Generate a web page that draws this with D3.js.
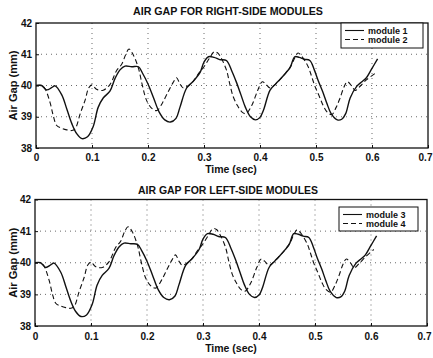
<!DOCTYPE html>
<html><head><meta charset="utf-8">
<script src="https://cdn.jsdelivr.net/npm/d3@7"></script>
<style>
body{margin:0;background:#fff;}
text{font-family:"Liberation Sans",Arial,sans-serif;font-weight:bold;fill:#111;}
</style></head>
<body><svg id="c" width="433" height="358"></svg>
<script>
const xTicks = [0,0.1,0.2,0.3,0.4,0.5,0.6,0.7];
const yTicks = [38,39,40,41,42];
const titles = ["AIR GAP FOR RIGHT-SIDE MODULES","AIR GAP FOR LEFT-SIDE MODULES"];
const xLabel = "Time (sec)";
const yLabel = "Air Gap (mm)";
const seriesNames = [["module 1","module 2"],["module 3","module 4"]];

const tSolid = [0,0.01,0.019,0.028,0.034,0.046,0.055,0.064,0.073,0.082,0.092,0.102,0.111,0.12,0.132,0.141,0.15,0.159,0.171,0.183,0.19,0.2,0.21,0.22,0.23,0.24,0.25,0.257,0.269,0.28,0.293,0.3,0.308,0.318,0.328,0.34,0.35,0.358,0.366,0.374,0.383,0.392,0.4,0.406,0.418,0.428,0.436,0.446,0.454,0.462,0.47,0.479,0.489,0.497,0.504,0.512,0.519,0.527,0.538,0.546,0.553,0.561,0.573,0.582,0.59,0.6,0.61];
const module1 = [40.0,40.0,39.86,39.93,39.99,39.7,39.25,38.78,38.45,38.3,38.36,38.68,39.3,39.6,39.82,40.22,40.5,40.62,40.6,40.6,40.4,40.05,39.6,39.15,38.9,38.83,38.95,39.3,39.92,40.12,40.42,40.75,40.92,40.9,40.83,40.8,40.45,40.1,39.7,39.3,39.0,38.9,38.98,39.2,39.85,40.05,40.2,40.4,40.58,40.92,40.9,40.84,40.8,40.5,40.15,39.8,39.45,39.1,38.9,38.92,39.1,39.6,39.98,40.12,40.25,40.55,40.85];
const module3 = [40.0,40.0,39.85,39.93,39.99,39.7,39.25,38.78,38.45,38.3,38.35,38.68,39.3,39.6,39.82,40.22,40.5,40.62,40.6,40.58,40.4,40.05,39.6,39.15,38.9,38.83,38.95,39.3,39.92,40.12,40.42,40.75,40.92,40.9,40.83,40.8,40.45,40.1,39.7,39.3,39.0,38.9,38.98,39.2,39.85,40.05,40.2,40.4,40.58,40.92,40.9,40.84,40.8,40.5,40.15,39.8,39.45,39.1,38.9,38.92,39.1,39.6,39.98,40.12,40.25,40.55,40.85];

const tDash = [0,0.01,0.016,0.025,0.031,0.037,0.046,0.055,0.064,0.07,0.079,0.088,0.094,0.1,0.108,0.12,0.132,0.144,0.153,0.16,0.166,0.174,0.183,0.19,0.198,0.208,0.216,0.226,0.236,0.245,0.251,0.257,0.263,0.27,0.28,0.289,0.3,0.31,0.318,0.324,0.33,0.34,0.346,0.352,0.36,0.368,0.375,0.385,0.396,0.404,0.41,0.418,0.428,0.436,0.446,0.455,0.462,0.468,0.474,0.486,0.492,0.498,0.506,0.513,0.52,0.528,0.536,0.543,0.55,0.556,0.564,0.57,0.58,0.59,0.605];
const module2 = [40.0,40.0,39.9,39.46,39.02,38.72,38.63,38.58,38.56,38.62,39.1,39.55,39.92,40.02,39.88,39.85,40.03,40.48,40.68,40.98,41.17,40.97,40.55,40.0,39.5,39.25,39.2,39.45,39.8,40.1,40.25,40.05,39.92,39.97,40.12,40.35,40.6,40.88,41.08,41.05,40.9,40.5,40.05,39.65,39.35,39.15,39.1,39.35,39.85,40.12,40.05,39.92,40.05,40.2,40.4,40.62,40.88,41.04,40.95,40.6,40.3,39.98,39.65,39.35,39.15,39.07,39.3,39.6,39.95,40.12,39.98,39.84,40.0,40.18,40.38];
const module4 = [40.0,40.0,39.9,39.46,39.02,38.72,38.63,38.58,38.56,38.62,39.1,39.55,39.92,40.02,39.88,39.85,40.03,40.48,40.68,40.98,41.14,40.97,40.55,40.0,39.5,39.25,39.2,39.45,39.8,40.1,40.25,40.05,39.92,39.97,40.12,40.35,40.6,40.88,41.08,41.05,40.9,40.5,40.05,39.65,39.35,39.15,39.1,39.35,39.85,40.12,40.05,39.92,40.05,40.2,40.4,40.62,40.88,41.04,40.95,40.6,40.3,39.98,39.65,39.35,39.15,39.07,39.3,39.6,39.95,40.12,39.98,39.84,40.0,40.18,40.42];

const panels = [
  {L:36,R:428,T:23,B:148,title:titles[0],titleY:15,tickY:161,xlabY:173,names:seriesNames[0],solid:module1,dash:module2,
   leg:{x:341,y:23,w:82,h:25}},
  {L:35,R:427,T:199.5,B:326,title:titles[1],titleY:194,tickY:340,xlabY:352,names:seriesNames[1],solid:module3,dash:module4,
   leg:{x:339,y:207,w:79,h:24}}
];

const svg = d3.select("#c");
panels.forEach((p,pi)=>{
  const x = d3.scaleLinear().domain([0,0.7]).range([p.L,p.R]);
  const y = d3.scaleLinear().domain([38,42]).range([p.B,p.T]);
  const g = svg.append("g");
  g.selectAll(".gx").data(xTicks.slice(1,-1)).join("line")
    .attr("x1",d=>x(d)).attr("x2",d=>x(d)).attr("y1",p.T).attr("y2",p.B)
    .attr("stroke","#444").attr("stroke-width",0.8).attr("stroke-dasharray","1,4");
  g.selectAll(".gy").data(yTicks.slice(1,-1)).join("line")
    .attr("y1",d=>y(d)).attr("y2",d=>y(d)).attr("x1",p.L).attr("x2",p.R)
    .attr("stroke","#444").attr("stroke-width",0.8).attr("stroke-dasharray","1,4");
  const xa = g.append("g").attr("transform",`translate(0,${p.B})`)
    .call(d3.axisBottom(x).tickValues(xTicks).tickSize(-3).tickPadding(6).tickFormat(d=>d===0?"0":d3.format(".1f")(d)));
  const ya = g.append("g").attr("transform",`translate(${p.L},0)`)
    .call(d3.axisLeft(y).tickValues(yTicks).tickSize(-3).tickPadding(4).tickFormat(d3.format("d")));
  [xa,ya].forEach(a=>{a.select(".domain").remove();a.selectAll("line").attr("stroke","#111");
    a.selectAll("text").style("font-size","10px").style("font-family","Liberation Sans, Arial").style("font-weight","bold").attr("fill","#111");});
  xa.selectAll("text").attr("dy",null).attr("y",p.tickY-p.B);
  xa.selectAll(".tick").filter(d=>d===0.7).select("text").attr("x",-3);
  g.append("rect").attr("x",p.L).attr("y",p.T).attr("width",p.R-p.L).attr("height",p.B-p.T)
    .attr("fill","none").attr("stroke","#111").attr("stroke-width",1.3);
  const line = d3.line().x(d=>x(d[0])).y(d=>y(d[1])).curve(d3.curveCatmullRom.alpha(0.5));
  g.append("path").datum(tSolid.map((t,i)=>[t,p.solid[i]])).attr("d",line)
    .attr("fill","none").attr("stroke","#111").attr("stroke-width",1.4);
  g.append("path").datum(tDash.map((t,i)=>[t,p.dash[i]])).attr("d",line)
    .attr("fill","none").attr("stroke","#111").attr("stroke-width",1.1).attr("stroke-dasharray","5,3");
  g.append("text").attr("x",228).attr("y",p.titleY).attr("text-anchor","middle").style("font-size","10px")
    .attr("textLength",pi?180:190).attr("lengthAdjust","spacingAndGlyphs").text(p.title);
  g.append("text").attr("x",231).attr("y",p.xlabY).attr("text-anchor","middle").style("font-size","10.5px").text(xLabel);
  g.append("text").attr("transform",`translate(17,${(p.T+p.B)/2}) rotate(-90)`).attr("text-anchor","middle").style("font-size","10.5px")
    .attr("textLength",70).attr("lengthAdjust","spacingAndGlyphs").text(yLabel);
  const lg = g.append("g");
  lg.append("rect").attr("x",p.leg.x).attr("y",p.leg.y).attr("width",p.leg.w).attr("height",p.leg.h)
    .attr("fill","#fff").attr("stroke","#111").attr("stroke-width",1);
  p.names.forEach((n,i)=>{
    const ly = p.leg.y+7.5+i*9;
    lg.append("line").attr("x1",p.leg.x+4).attr("x2",p.leg.x+23).attr("y1",ly).attr("y2",ly)
      .attr("stroke","#111").attr("stroke-width",1.1).attr("stroke-dasharray",i?"5,3":null);
    lg.append("text").attr("x",p.leg.x+27).attr("y",ly+3).style("font-size","9px").text(n);
  });
});
</script></body></html>
